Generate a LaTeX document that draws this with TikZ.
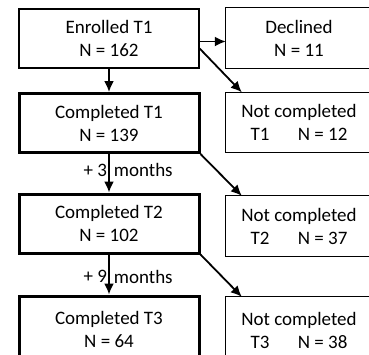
\documentclass[tikz,border=0pt]{standalone}
\usepackage{fontspec}
\setmainfont{Carlito}
\usetikzlibrary{arrows.meta}
\begin{document}
\begin{tikzpicture}[x=1pt,y=-1pt,every path/.style={>={Latex[length=11pt,width=10pt]}},
		box/.style={draw,line width=1.3pt,align=center,inner sep=0pt,font=\fontsize{19}{23}\selectfont},
		leftbox/.style={box,minimum width=180pt,minimum height=59pt},
		thickbox/.style={leftbox,line width=3pt},
		rightbox/.style={align=center,inner sep=0pt,font=\fontsize{19}{23}\selectfont,minimum width=146pt,minimum height=60pt},
		openline/.style={line width=1.3pt},
		lbl/.style={font=\fontsize{19}{23}\selectfont},
		flow/.style={->,line width=1.8pt}]
	\useasboundingbox (0,0) rectangle (369,354);
	\clip (0,0) rectangle (369,354);
	
	% left column
	\node[leftbox] (enrolled) at (109,38.5) {Enrolled T1\\N = 162};
	\node[thickbox] (comp1) at (109,123) {Completed T1\\N = 139};
	\node[thickbox] (comp2) at (109,223.5) {Completed T2\\N = 102};
	\node[thickbox,minimum height=66pt] (comp3) at (109,329) {Completed T3\\N = 64};
	
	% right column (boxes run off the right edge)
	\node[rightbox] (declined) at (299,38) {Declined\\N = 11};
	\node[rightbox] (notc1) at (299,122.5) {Not completed\\T1\hspace{1.5em}N = 12};
	\node[rightbox] (notc2) at (299,226) {Not completed\\T2\hspace{1.5em}N = 37};
	\node[rightbox,minimum height=66pt] (notc3) at (299,330) {Not completed\\T3\hspace{1.5em}N = 38};
	\foreach \b in {declined,notc1,notc2,notc3}
		\draw[openline] ([xshift=20pt]\b.north east) -- (\b.north west) -- (\b.south west) -- ([xshift=20pt]\b.south east);
	
	% arrows down
	\draw[flow] (enrolled.south) -- (comp1.north);
	\draw[flow] (comp1.south) -- node[pos=0.42,left,lbl,inner sep=1pt] {+ 3}
		node[pos=0.42,right,lbl,inner sep=4pt] {months} (comp2.north);
	\draw[flow] (comp2.south) -- node[pos=0.55,left,lbl,inner sep=1pt] {+ 9}
		node[pos=0.55,right,lbl,inner sep=4pt] {months} (comp3.north);
	
	% arrows to the right
	\coordinate (e1) at ([yshift=-3pt]enrolled.east);
	\coordinate (e2) at ([yshift=-10pt]enrolled.east);
	\draw[flow] (e1) -- (e1 -| declined.west);
	\draw[flow] (e2) -- ([xshift=16pt]notc1.north west);
	\draw[flow] (comp1.south east) -- ([xshift=16pt]notc2.north west);
	\draw[flow] (comp2.south east) -- ([xshift=16pt]notc3.north west);
\end{tikzpicture}
\end{document}
